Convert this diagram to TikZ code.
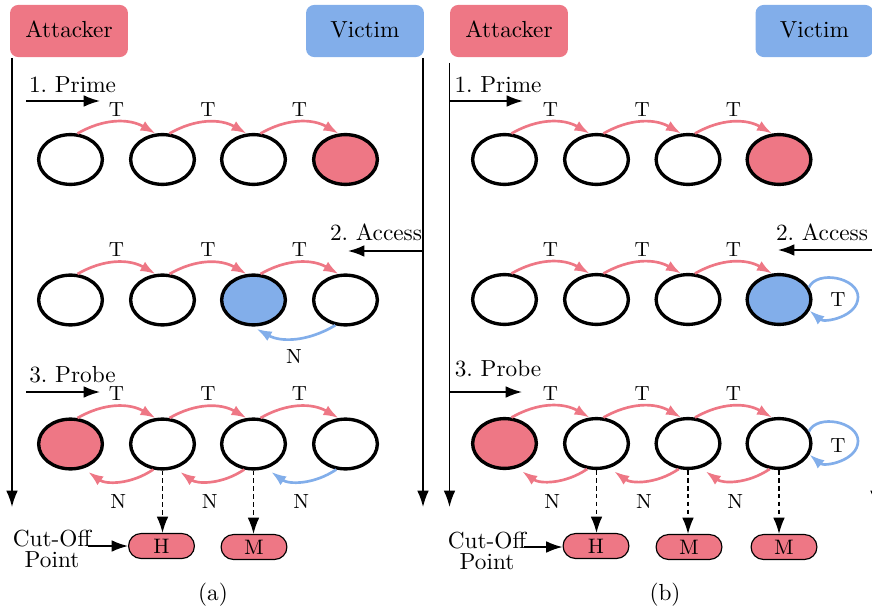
\documentclass[tikz,border=0pt]{standalone}
\usetikzlibrary{arrows.meta,shapes.geometric}
\definecolor{pinkc}{RGB}{238,119,133}
\definecolor{bluec}{RGB}{130,174,234}
\begin{document}
\begin{tikzpicture}[x=0.43pt,y=-0.43pt,
  cell/.style={ellipse,draw,line width=1.45pt,minimum width=27.4pt,minimum height=21.4pt,inner sep=0pt},
  actor/.style={rounded corners=3.5pt,minimum width=50.7pt,minimum height=22.4pt,inner sep=0pt,text depth=1.2pt},
  res/.style={draw,line width=0.5pt,fill=pinkc,rounded corners=5.3pt,minimum width=28.3pt,minimum height=10.7pt,inner sep=0pt,font=\small},
  blk/.style={line width=0.7pt,-{Latex[length=7pt,width=5pt]}},
  dsh/.style={line width=0.65pt,dash pattern=on 2pt off 1.4pt,-{Latex[length=7pt,width=5pt]}},
  tarr/.style={line width=1.15pt,-{Latex[length=6.5pt,width=4.6pt]}},
  parr/.style={tarr,draw=pinkc},
  barr/.style={tarr,draw=bluec},
  lbl/.style={font=\fontsize{8.8}{10}\selectfont,inner sep=1pt},
  txt/.style={inner sep=0pt}
]
\useasboundingbox (0,0) rectangle (872,612);
\clip (0,0) rectangle (872,612);

% ---------------- panel (a) ----------------
\node[actor,fill=pinkc] (attA) at (69,31) {Attacker};
\node[actor,fill=bluec] (vicA) at (365,31) {Victim};
\coordinate (aAt) at (12,58); \coordinate (aAb) at (12,507);
\coordinate (aVt) at (423,58); \coordinate (aVb) at (423,507);
\draw[blk] (aAt) -- (aAb);
\draw[blk] (aVt) -- (aVb);

\node[txt] (primeA) at (72.5,84.5) {1.~Prime};
\coordinate (pA1) at (26,101); \coordinate (pA2) at (100,101);
\draw[blk] (pA1) -- (pA2);
\node[txt] (accA) at (376,232) {2.~Access};
\coordinate (cA1) at (423,251); \coordinate (cA2) at (348,251);
\draw[blk] (cA1) -- (cA2);
\node[txt] (probeA) at (72.5,374.5) {3.~Probe};
\coordinate (rA1) at (26,392); \coordinate (rA2) at (100,392);
\draw[blk] (rA1) -- (rA2);

\node[cell] (a11) at (70.5,159.5) {};
\node[cell] (a12) at (162.5,159.5) {};
\node[cell] (a13) at (253.5,159.5) {};
\node[cell,fill=pinkc] (a14) at (345.5,159.5) {};
\node[cell] (a21) at (70.5,300) {};
\node[cell] (a22) at (162.5,300) {};
\node[cell,fill=bluec] (a23) at (253.5,300) {};
\node[cell] (a24) at (345.5,300) {};
\node[cell,fill=pinkc] (a31) at (70.5,444) {};
\node[cell] (a32) at (162.5,444) {};
\node[cell] (a33) at (253.5,444) {};
\node[cell] (a34) at (345.5,444) {};

\foreach \r in {1,2,3}{
  \draw[parr] (a\r1.75) to[bend left=30] node[lbl,above=1pt]{T} (a\r2.105);
  \draw[parr] (a\r2.75) to[bend left=30] node[lbl,above=1pt]{T} (a\r3.105);
  \draw[parr] (a\r3.75) to[bend left=30] node[lbl,above=1pt]{T} (a\r4.105);
}
\draw[barr,shorten >=2pt] (a24.-112) to[bend left=30] node[lbl,below=3.5pt]{N} (a23.-92);
\draw[parr,shorten >=2.5pt] (a32.-110) to[bend left=35] node[lbl,below=4.5pt]{N} (a31.-62);
\draw[parr,shorten >=2.5pt] (a33.-110) to[bend left=35] node[lbl,below=4.5pt]{N} (a32.-62);
\draw[barr,shorten >=2.5pt] (a34.-110) to[bend left=35] node[lbl,below=4.5pt]{N} (a33.-62);

\node[res] (hA) at (161.5,546) {H};
\node[res] (mA) at (254,547) {M};
\draw[dsh] (a32.south) -- (a32.south |- hA.north);
\draw[dsh] (a33.south) -- (a33.south |- mA.north);

\node[txt,align=center,font=\fontsize{10}{8.8}\selectfont] (cutA) at (52,549) {Cut-Off\\Point};
\coordinate (cuA) at (88,546);
\draw[blk] (cuA) -- (cuA -| hA.west);
\node[txt] (capA) at (213,595) {(a)};

% ---------------- panel (b) ----------------
\node[actor,fill=pinkc] (attB) at (509,31) {Attacker};
\node[actor,fill=bluec] (vicB) at (814.5,31) {Victim};
\coordinate (bAt) at (449.5,63); \coordinate (bAb) at (449.5,507);
\coordinate (bVt) at (876,58); \coordinate (bVb) at (876,507);
\draw[blk] (bAt) -- (bAb);
\draw[blk] (bVt) -- (bVb);

\node[txt] (primeB) at (498,84.5) {1.~Prime};
\coordinate (pB1) at (449.5,101); \coordinate (pB2) at (523,101);
\draw[blk] (pB1) -- (pB2);
\node[txt] (accB) at (822,232) {2.~Access};
\coordinate (cB1) at (876,250); \coordinate (cB2) at (778,250);
\draw[blk] (cB1) -- (cB2);
\node[txt] (probeB) at (498,369) {3.~Probe};
\coordinate (rB1) at (449.5,392); \coordinate (rB2) at (522,392);
\draw[blk] (rB1) -- (rB2);

\node[cell] (b11) at (504.5,159.5) {};
\node[cell] (b12) at (596.5,159.5) {};
\node[cell] (b13) at (688,159.5) {};
\node[cell,fill=pinkc] (b14) at (779,159.5) {};
\node[cell] (b21) at (504.5,299.5) {};
\node[cell] (b22) at (596.5,299.5) {};
\node[cell] (b23) at (688,299.5) {};
\node[cell,fill=bluec] (b24) at (779,299.5) {};
\node[cell,fill=pinkc] (b31) at (504.5,443.5) {};
\node[cell] (b32) at (596.5,443.5) {};
\node[cell] (b33) at (688,443.5) {};
\node[cell] (b34) at (779,443.5) {};

\foreach \r in {1,2,3}{
  \draw[parr] (b\r1.75) to[bend left=30] node[lbl,above=1pt]{T} (b\r2.105);
  \draw[parr] (b\r2.75) to[bend left=30] node[lbl,above=1pt]{T} (b\r3.105);
  \draw[parr] (b\r3.75) to[bend left=30] node[lbl,above=1pt]{T} (b\r4.105);
}
% self loops
\coordinate (lr2) at (858,297);
\coordinate (lr3) at (858,441);
\draw[barr] (b24.22) to[out=65,in=90] (lr2) to[out=-90,in=-40] (b24.-20);
\draw[barr] (b34.22) to[out=65,in=90] (lr3) to[out=-90,in=-40] (b34.-20);
\node[lbl] (lt2) at (838,300) {T};
\node[lbl] (lt3) at (838,446) {T};

\draw[parr,shorten >=2.5pt] (b32.-110) to[bend left=35] node[lbl,below=4.5pt]{N} (b31.-62);
\draw[parr,shorten >=2.5pt] (b33.-110) to[bend left=35] node[lbl,below=4.5pt]{N} (b32.-62);
\draw[parr,shorten >=2.5pt] (b34.-110) to[bend left=35] node[lbl,below=4.5pt]{N} (b33.-62);

\node[res] (hB) at (596,546) {H};
\node[res] (mB1) at (689,547) {M};
\node[res] (mB2) at (784,547) {M};
\draw[dsh] (b32.south) -- (b32.south |- hB.north);
\draw[dsh] (b33.south) -- (b33.south |- mB1.north);
\draw[dsh] (b34.south) -- (b34.south |- mB2.north);

\node[txt,align=center,font=\fontsize{10}{8.8}\selectfont] (cutB) at (487,551) {Cut-Off\\Point};
\coordinate (cuB) at (524,547);
\draw[blk] (cuB) -- (cuB -| hB.west);
\node[txt] (capB) at (665,595) {(b)};
\end{tikzpicture}
\end{document}
